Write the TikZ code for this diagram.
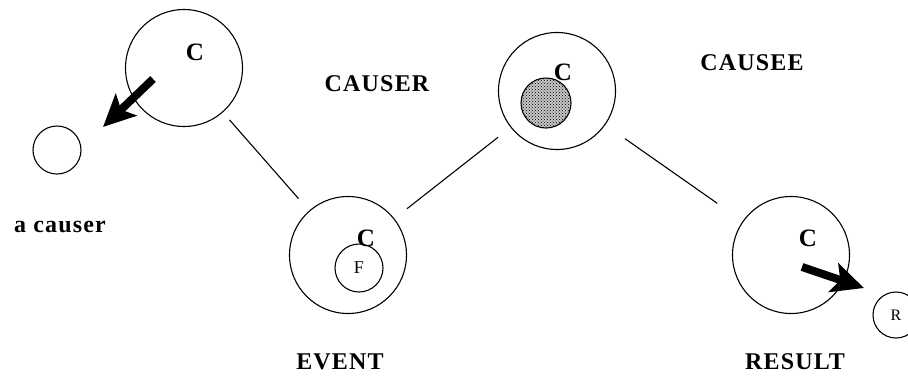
\documentclass[tikz,border=0pt]{standalone}
\usepackage{fontspec}
\setmainfont{Liberation Serif}
\newfontfamily\widefont[LetterSpace=5]{Liberation Serif}
\usetikzlibrary{arrows.meta,patterns}
\tikzset{
	role/.style={circle, draw, line width=1.1pt, minimum size=117pt, inner sep=0pt},
	part/.style={circle, draw, line width=1.1pt, minimum size=48pt, inner sep=0pt, font=\fontsize{18}{18}\selectfont},
	link/.style={line width=1.1pt, shorten <=10pt, shorten >=16pt},
	push/.style={line width=8pt, -{Stealth[length=32pt, width=30pt, inset=7pt]}},
	tag/.style={font=\widefont\fontsize{24}{24}\selectfont\bfseries},
	cee/.style={font=\fontsize{25}{25}\selectfont\bfseries},
}
\begin{document}
\begin{tikzpicture}[x=1pt, y=-1pt]
	\clip (0,0) rectangle (908,376);

	% the four roles
	\node [role] (causer) at (184, 68) {};
	\node [role] (event) at (348, 255) {};
	\node [role] (causee) at (557, 91) {};
	\node [role] (result) at (791, 255) {};

	\draw [link] (causer) -- (event);
	\draw [link, shorten <=16pt] (event) -- (causee);
	\draw [link, shorten <=24pt, shorten >=31pt] (causee) -- (result);

	% small circles
	\node [part] (agent) at (57, 150) {};
	\node [part] (force) at (359, 268) {F};
	\node [part, preaction={fill=gray!45}, pattern=crosshatch dots, minimum size=50pt] (blob) at (546, 103) {};
	\node [part, minimum size=46pt, font=\fontsize{16}{16}\selectfont] (res) at (896, 315) {R};

	% big arrows
	\coordinate (p1) at (153, 79);
	\coordinate (q1) at (103, 127);
	\draw [push] (p1) -- (q1);
	\coordinate (p2) at (802, 267);
	\coordinate (q2) at (864, 288);
	\draw [push] (p2) -- (q2);

	\node [cee] (c1) at (195, 52) {C};
	\node [cee] (c2) at (366, 238) {C};
	\node [cee] (c3) at (563, 72) {C};
	\node [cee] (c4) at (808, 238) {C};

	\node [tag] (lcauser) at (377, 84) {CAUSER};
	\node [tag] (lcausee) at (752, 63) {CAUSEE};
	\node [tag] (levent) at (340, 362) {EVENT};
	\node [tag] (lresult) at (795, 362) {RESULT};
	\node [tag] (lagent) at (60, 227) {a causer};
\end{tikzpicture}
\end{document}
